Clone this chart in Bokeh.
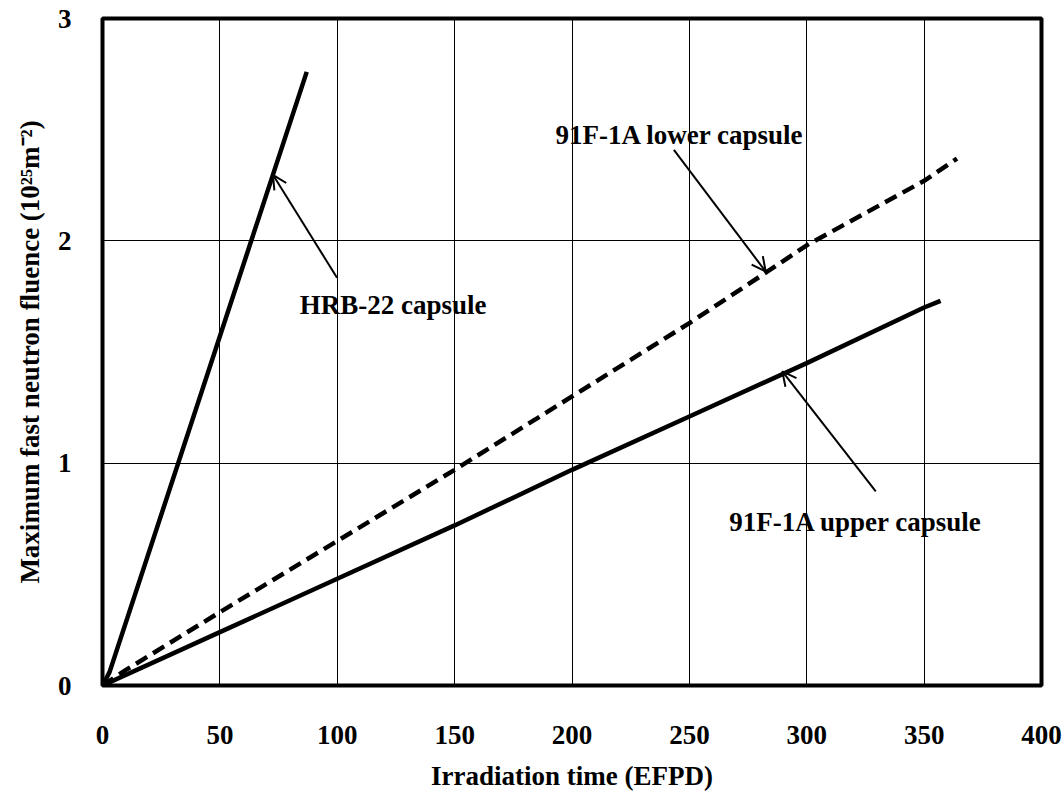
from bokeh.plotting import figure
from bokeh.models import Arrow, OpenHead, Label, FixedTicker
from bokeh.embed import file_html
from bokeh.resources import INLINE

# ---- data ----
hrb_x = [0, 3, 87]
hrb_y = [0, 0.06, 2.76]

lower_x = [0, 10, 50, 100, 150, 200, 250, 283, 300, 350, 364]
lower_y = [0, 0.07, 0.33, 0.65, 0.97, 1.30, 1.63, 1.86, 1.98, 2.27, 2.37]

upper_x = [0, 50, 100, 150, 200, 250, 300, 350, 357]
upper_y = [0, 0.24, 0.48, 0.72, 0.97, 1.21, 1.45, 1.70, 1.73]

x_ticks = [0, 50, 100, 150, 200, 250, 300, 350, 400]
y_ticks = [0, 1, 2, 3]

label_texts = ["HRB-22 capsule", "91F-1A lower capsule", "91F-1A upper capsule"]
label_x = [84, 193, 267]
label_y = [1.71, 2.476, 0.737]

arrow_x_start = [99.9, 243.4, 329.4]
arrow_y_start = [1.834, 2.409, 0.873]
arrow_x_end = [72.6, 282.5, 289.6]
arrow_y_end = [2.297, 1.862, 1.413]

FONT = "Liberation Serif"

p = figure(width=1064, height=793, x_range=(0, 400), y_range=(0, 3),
           output_backend="svg", toolbar_location=None,
           min_border_left=102, min_border_right=23,
           min_border_top=18, min_border_bottom=107)

p.background_fill_color = "white"
p.border_fill_color = "white"
p.outline_line_color = "black"
p.outline_line_width = 4

for ax in (p.xaxis[0], p.yaxis[0]):
    ax.axis_line_color = None
    ax.major_tick_line_color = None
    ax.minor_tick_line_color = None
    ax.major_label_text_font = FONT
    ax.major_label_text_font_style = "bold"
    ax.major_label_text_font_size = "27px"
    ax.major_label_text_color = "black"
    ax.axis_label_text_font = FONT
    ax.axis_label_text_font_style = "bold"
    ax.axis_label_text_font_size = "27px"
    ax.axis_label_text_color = "black"

p.xaxis.ticker = FixedTicker(ticks=x_ticks)
p.yaxis.ticker = FixedTicker(ticks=y_ticks)
p.xaxis.major_label_standoff = 34
p.yaxis.major_label_standoff = 25
p.xaxis.axis_label = "Irradiation time (EFPD)"
p.yaxis.axis_label = "Maximum fast neutron fluence (10²⁵m⁻²)"
p.xaxis.axis_label_standoff = 14
p.yaxis.axis_label_standoff = 10

p.xgrid.ticker = FixedTicker(ticks=x_ticks)
p.ygrid.ticker = FixedTicker(ticks=y_ticks)
p.xgrid.grid_line_color = "black"
p.ygrid.grid_line_color = "black"
p.xgrid.grid_line_width = 1
p.ygrid.grid_line_width = 1

p.line(hrb_x, hrb_y, line_color="black", line_width=4.5)
p.line(upper_x, upper_y, line_color="black", line_width=4.5)
p.line(lower_x, lower_y, line_color="black", line_width=4.5, line_dash="13 7")

for t, x, y in zip(label_texts, label_x, label_y):
    p.add_layout(Label(x=x, y=y, text=t, text_font=FONT, text_font_style="bold",
                       text_font_size="27px", text_color="black",
                       text_baseline="alphabetic", text_align="left"))

for xs, ys, xe, ye in zip(arrow_x_start, arrow_y_start, arrow_x_end, arrow_y_end):
    p.add_layout(Arrow(end=OpenHead(size=14, line_width=2, line_color="black"),
                       x_start=xs, y_start=ys, x_end=xe, y_end=ye,
                       line_width=2, line_color="black"))

open("out.html", "w").write(file_html(p, INLINE))
